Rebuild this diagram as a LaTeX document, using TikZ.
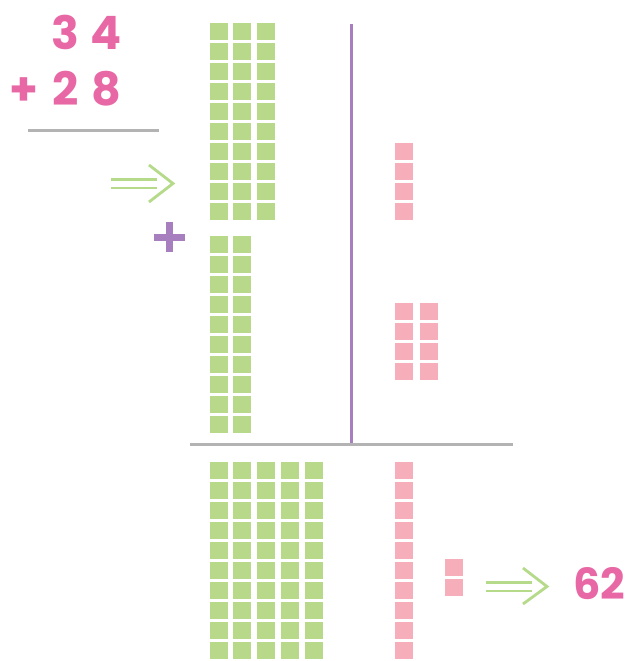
\documentclass[tikz,border=0pt]{standalone}
\usepackage{fontspec}
\setmainfont{Poppins}
\definecolor{pinktext}{HTML}{E868A6}
\definecolor{pinksq}{HTML}{F6AEBB}
\definecolor{greensq}{HTML}{B9D98A}
\definecolor{purp}{HTML}{A77FBE}
\definecolor{grayline}{HTML}{B3B3B4}
\definecolor{arrowgreen}{HTML}{B5DA8A}
\tikzset{
  digit/.style={text=pinktext, font=\fontsize{46}{46}\selectfont\bfseries, inner sep=0pt, anchor=base},
  bigdigit/.style={text=pinktext, font=\fontsize{43}{43}\selectfont\bfseries, inner sep=0pt, anchor=base},
  gsq/.style={fill=greensq},
  psq/.style={fill=pinksq},
  rule/.style={draw=grayline, line width=3pt},
  divider/.style={draw=purp, line width=3pt},
  dblarrow/.style={draw=arrowgreen, line width=2.8pt},
}
\begin{document}
\begin{tikzpicture}[x=1pt,y=-1pt]
\useasboundingbox (0,0) rectangle (626,661);
% numbers
\node[digit] (d3) at (65,50) {3};
\node[digit] (d4) at (106,50) {4};
\node[digit] (dplus) at (24,105) {+};
\node[digit] (d2) at (66,105) {2};
\node[digit] (d8) at (106.5,105) {8};
\node[bigdigit] (res) at (599,599) {62};
% rule under addition
\draw[rule] (28,130.5) -- (159,130.5);
% top arrow
\draw[dblarrow] (111,179.5) -- (157,179.5);
\draw[dblarrow] (111,188) -- (157,188);
\draw[dblarrow] (149,165) -- (173,183.5) -- (149,202);
% purple plus
\fill[purp] (154,233.5) rectangle (185,240.5);
\fill[purp] (166,222) rectangle (173,252);
% top green: 3 columns x 10
\foreach \cx in {210,233,257} \foreach \r in {0,...,9}
  \fill[gsq] (\cx,{23+20*\r}) rectangle +(18,17);
% second green: 2 columns x 10
\foreach \cx in {210,233} \foreach \r in {0,...,9}
  \fill[gsq] (\cx,{236+20*\r}) rectangle +(18,17);
% pink 4
\foreach \r in {0,...,3}
  \fill[psq] (395,{143+20*\r}) rectangle +(18,17);
% pink 8
\foreach \cx in {395,420} \foreach \r in {0,...,3}
  \fill[psq] (\cx,{303+20*\r}) rectangle +(18,17);
% vertical divider
\draw[divider] (351,24) -- (351,444);
% horizontal rule
\draw[rule] (190,444.5) -- (513,444.5);
% bottom green 5 x 10
\foreach \cx in {210,233,257,281,305} \foreach \r in {0,...,9}
  \fill[gsq] (\cx,{462+20*\r}) rectangle +(18,17);
% bottom pink column 10
\foreach \r in {0,...,9}
  \fill[psq] (395,{462+20*\r}) rectangle +(18,17);
% pink 2 extra
\fill[psq] (445,559) rectangle +(18,17);
\fill[psq] (445,579) rectangle +(18,17);
% bottom arrow
\draw[dblarrow] (486,582.5) -- (532,582.5);
\draw[dblarrow] (486,591) -- (532,591);
\draw[dblarrow] (523,568) -- (547,586.5) -- (523,604);
\end{tikzpicture}
\end{document}
